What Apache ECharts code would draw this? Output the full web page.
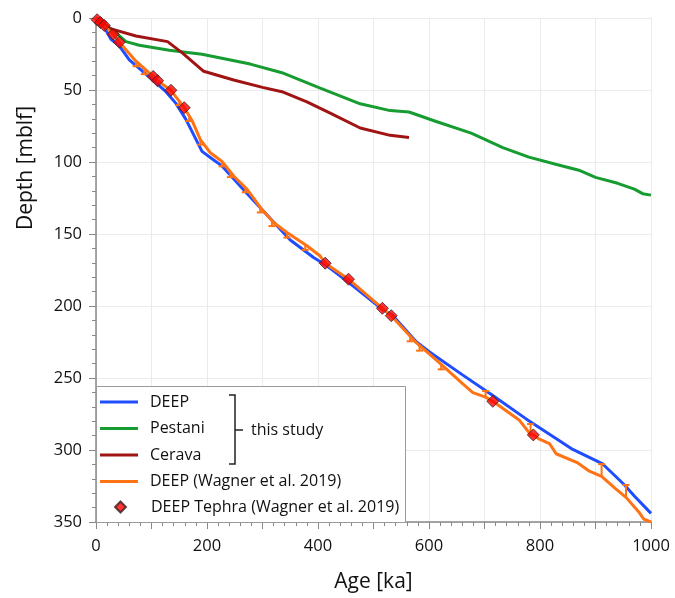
<!DOCTYPE html>
<html>
<head>
<meta charset="utf-8">
<script src="https://cdn.jsdelivr.net/npm/echarts@6/dist/echarts.min.js"></script>
<style>
  html, body { margin: 0; padding: 0; background: #fff; }
  #chart { width: 675px; height: 598px; }
</style>
</head>
<body>
<div id="chart"></div>
<script>
// Age-depth models: age in ka, depth in m below lake floor
const deepAge   = [0, 10, 27, 41, 60, 102, 126, 144, 162, 191, 212, 227, 272, 299, 350, 392, 413, 455, 517, 535, 577, 601, 661, 715, 775, 835, 859, 913, 951, 970, 1000];
const deepDepth = [0, 3, 14.8, 18.9, 29, 43, 51.2, 59.3, 70.4, 92.6, 98.6, 102.7, 121.9, 133, 154.2, 166.3, 171.3, 183.5, 202.6, 206.7, 224.8, 231.9, 248, 262.2, 278.4, 293.5, 299.6, 309.7, 323.8, 331.9, 344];

const pestaniAge   = [0, 15, 30, 54, 78, 132, 191, 240, 278, 335, 404, 476, 530, 564, 613, 676, 733, 780, 830, 870, 900, 940, 970, 985, 1000];
const pestaniDepth = [0, 4.2, 8.3, 16.4, 18.9, 22.4, 25.2, 29, 32, 38, 48.7, 59.6, 64.3, 65.3, 71.9, 80, 90, 96.6, 101.7, 105.7, 110.7, 114.8, 118.8, 122, 123];

const ceravaAge   = [0, 10, 24, 72, 129, 156, 194, 248, 300, 335, 380, 422, 476, 530, 564];
const ceravaDepth = [0, 3.7, 7.2, 12.5, 16.4, 24.4, 37, 43.1, 48.2, 51.2, 58.2, 66, 76.4, 81.5, 83];

const wagnerAge   = [0, 2, 8, 15, 23, 31, 42, 72, 103, 111, 135, 159, 174, 188, 206, 227, 248, 272, 299, 320, 344, 380, 404, 413, 455, 516, 532, 577, 601, 625, 661, 679, 702, 715, 739, 763, 783, 788, 799, 817, 829, 867, 889, 911, 936, 955, 978, 987, 1000];
const wagnerDepth = [0, 1.2, 3.2, 5.2, 8.3, 11.3, 16.8, 30, 40.6, 43.6, 50.2, 62.3, 71.9, 84.5, 93.6, 99.6, 109.7, 118.8, 133, 142, 149, 158.2, 165.3, 170.3, 181.4, 201.6, 206.7, 225.5, 233.5, 241.6, 254.1, 260.2, 263.3, 266.2, 272.8, 279.4, 289.2, 289.5, 292.5, 295.5, 302.6, 308.7, 314.7, 318.3, 326.8, 332.9, 343, 348, 350];

// Hiatus / uncertainty bars on the Wagner et al. (2019) model: age, start depth, capped end depth
const barAge  = [72, 87, 150, 168, 188, 227, 242, 269, 296, 317, 344, 377, 566, 583, 622, 702, 783, 911, 955];
const barFrom = [30, 35.5, 57, 68, 84.5, 99.6, 107, 117.7, 131.5, 141, 149, 157.5, 221, 227.5, 240.6, 263.3, 289.2, 318.3, 332.9];
const barTo   = [33.5, 39, 60.5, 71.5, 88, 103, 110.5, 121, 135, 144.5, 152.5, 161, 224.5, 231, 244, 259, 282, 309.8, 324.3];

// Tephra tie points
const tephraAge   = [2, 8, 15, 31, 42, 103, 111, 135, 159, 413, 455, 516, 532, 715, 788];
const tephraDepth = [1.2, 3.2, 5.2, 11.3, 16.8, 40.6, 43.6, 50.2, 62.3, 170.3, 181.4, 201.6, 206.7, 266.2, 289.5];

const xTicks = [0, 200, 400, 600, 800, 1000];

const FONT = '"Open Sans", "Noto Sans", sans-serif';
const pairs = (a, b) => a.map((v, i) => [v, b[i]]);

const C_DEEP = '#1f4dff';
const C_PEST = '#169c30';
const C_CERA = '#a01414';
const C_WAGN = '#ff7314';

const chart = echarts.init(document.getElementById('chart'), null, { renderer: 'canvas' });

const lineSeries = (name, color, data, z) => ({
  name, type: 'line', data, showSymbol: false, symbol: 'none', z,
  lineStyle: { color, width: 3 }, itemStyle: { color }, animation: false
});

chart.setOption({
  animation: false,
  grid: { left: 96, right: 24, top: 18, bottom: 75, containLabel: false },
  xAxis: {
    type: 'value', min: 0, max: 1000, interval: 100,
    name: 'Age [ka]', nameLocation: 'middle', nameGap: 50,
    nameTextStyle: { fontFamily: FONT, fontSize: 21, color: '#111' },
    axisLine: { onZero: false, lineStyle: { color: '#888', width: 1.5 } },
    axisTick: { show: true, length: 7, lineStyle: { color: '#888' } },
    minorTick: { show: true, splitNumber: 5, length: 4, lineStyle: { color: '#888' } },
    axisLabel: {
      fontFamily: FONT, fontSize: 16.5, color: '#111', margin: 16,
      formatter: v => (xTicks.indexOf(v) >= 0 ? String(v) : '')
    },
    splitLine: { show: true, lineStyle: { color: '#ebebeb', width: 1 } }
  },
  yAxis: {
    type: 'value', min: 0, max: 350, interval: 50, inverse: true,
    axisLine: { show: true, onZero: false, lineStyle: { color: '#888', width: 1.5 } },
    axisTick: { show: true, length: 7, lineStyle: { color: '#888' } },
    minorTick: { show: true, splitNumber: 5, length: 4, lineStyle: { color: '#888' } },
    axisLabel: { fontFamily: FONT, fontSize: 16.5, color: '#111', margin: 14 },
    splitLine: { show: true, lineStyle: { color: '#ebebeb', width: 1 } }
  },
  legend: [
    {
      data: ['DEEP', 'Pestani', 'Cerava', 'DEEP (Wagner et al. 2019)'],
      orient: 'vertical', left: 100, top: 393, z: 10, padding: 0,
      icon: 'rect', itemWidth: 38, itemHeight: 3, itemGap: 8.5,
      selectedMode: false,
      textStyle: { fontFamily: FONT, fontSize: 16, color: '#111', lineHeight: 18, padding: [0, 0, 0, 7] }
    },
    {
      data: ['DEEP Tephra (Wagner et al. 2019)'],
      orient: 'vertical', left: 114, top: 498, z: 10, padding: 0,
      icon: 'diamond', itemWidth: 11, itemHeight: 11,
      selectedMode: false,
      textStyle: { fontFamily: FONT, fontSize: 16, color: '#111', lineHeight: 18, padding: [0, 0, 0, 20] }
    }
  ],
  graphic: [
    {
      // vertical axis title
      type: 'text', z: 6, silent: true, x: 26, y: 168, rotation: Math.PI / 2,
      style: { text: 'Depth [mblf]', fontFamily: FONT, fontSize: 21, fill: '#111', align: 'center', verticalAlign: 'middle' }
    },
    {
      type: 'rect', z: 5, silent: true,
      shape: { x: 96.5, y: 386.5, width: 309, height: 136 },
      style: { fill: '#fff', stroke: '#9a9a9a', lineWidth: 1 }
    },
    {
      type: 'polyline', z: 6, silent: true,
      shape: { points: [[229, 395], [235, 395], [235, 464], [229, 464]] },
      style: { stroke: '#222', lineWidth: 1.5, fill: null }
    },
    {
      type: 'line', z: 6, silent: true,
      shape: { x1: 235, y1: 430, x2: 243, y2: 430 },
      style: { stroke: '#222', lineWidth: 1.5 }
    },
    {
      type: 'text', z: 6, silent: true, x: 251, y: 430,
      style: { text: 'this study', fontFamily: FONT, fontSize: 16, fill: '#111', verticalAlign: 'middle' }
    }
  ],
  series: [
    lineSeries('DEEP', C_DEEP, pairs(deepAge, deepDepth), 3),
    lineSeries('Pestani', C_PEST, pairs(pestaniAge, pestaniDepth), 3),
    lineSeries('Cerava', C_CERA, pairs(ceravaAge, ceravaDepth), 3),
    lineSeries('DEEP (Wagner et al. 2019)', C_WAGN, pairs(wagnerAge, wagnerDepth), 4),
    {
      name: 'hiatus', type: 'custom', z: 4, animation: false,
      data: barAge.map((a, i) => [a, barFrom[i], barTo[i]]),
      encode: { x: 0, y: [1, 2] },
      renderItem: (params, api) => {
        const p1 = api.coord([api.value(0), api.value(1)]);
        const p2 = api.coord([api.value(0), api.value(2)]);
        const st = { stroke: C_WAGN, lineWidth: 2 };
        return {
          type: 'group',
          children: [
            { type: 'line', shape: { x1: p1[0], y1: p1[1], x2: p2[0], y2: p2[1] }, style: st },
            { type: 'line', shape: { x1: p2[0] - 3.5, y1: p2[1], x2: p2[0] + 3.5, y2: p2[1] }, style: st }
          ]
        };
      }
    },
    {
      name: 'DEEP Tephra (Wagner et al. 2019)', type: 'scatter', z: 6,
      data: pairs(tephraAge, tephraDepth),
      symbol: 'diamond', symbolSize: 12,
      itemStyle: { color: '#ff0000', borderColor: '#3a2020', borderWidth: 1 }
    }
  ]
});
</script>
</body>
</html>
